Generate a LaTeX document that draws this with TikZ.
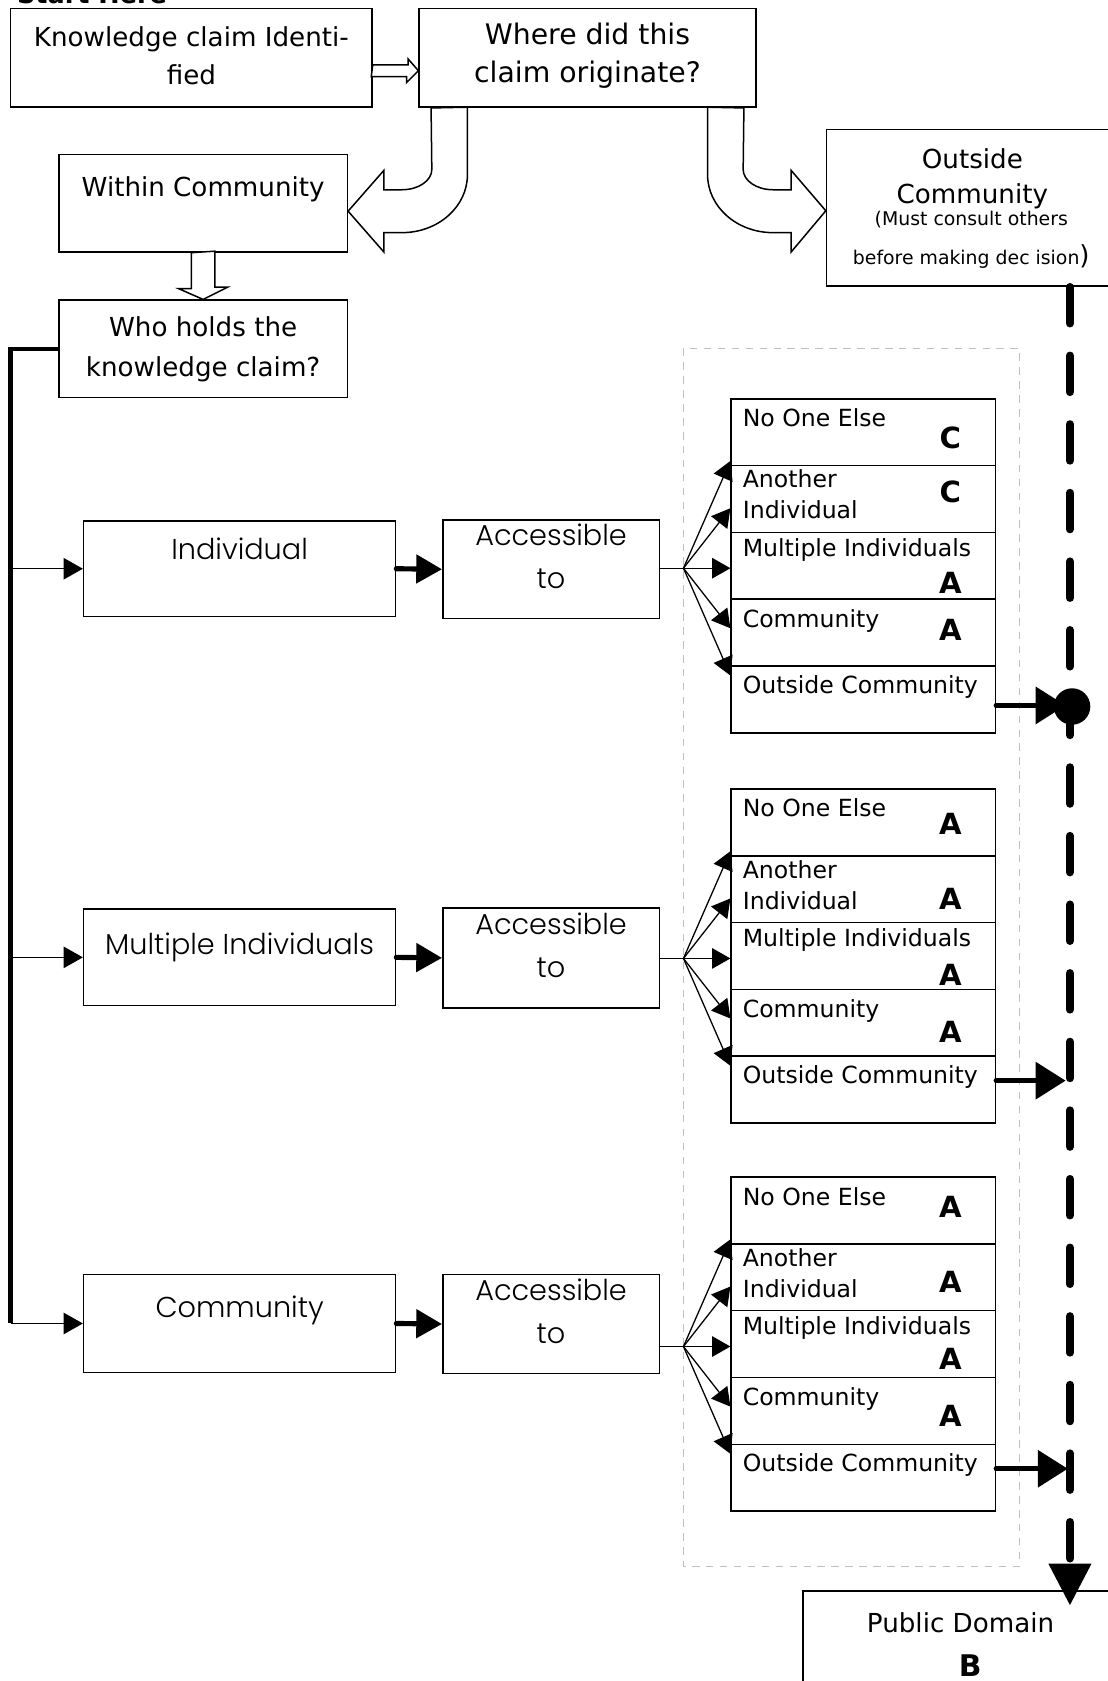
\documentclass[tikz,border=0pt]{standalone}
\usepackage{fontspec}
\setmainfont{DejaVu Sans}
\newfontfamily\gothic{Poppins Light}
\usetikzlibrary{arrows.meta}

\tikzset{
    box/.style={draw, line width=0.7pt, inner sep=0pt},
    blockarrow/.style={draw, line width=0.7pt, fill=white, line join=miter},
    bigtext/.style={inner sep=0pt, align=center, font=\fontsize{12.2}{18}\selectfont},
    gothictext/.style={inner sep=0pt, align=center, font=\gothic\fontsize{13.4}{20}\selectfont},
    rowtext/.style={inner sep=0pt, anchor=base west, font=\fontsize{11}{14}\selectfont},
    grade/.style={inner sep=0pt, anchor=base, font=\bfseries\fontsize{13.6}{15}\selectfont},
    link/.style={line width=0.6pt},
    feed/.style={line width=0.6pt, -{Triangle[length=9pt, width=10pt]}},
    fan/.style={line width=0.6pt, -{Triangle[length=8.5pt, width=9.5pt]}},
    push/.style={line width=2.4pt, line cap=round, -{Triangle[length=12pt, width=13pt]}},
    exit/.style={line width=2.4pt, line cap=round, -{Triangle[length=14pt, width=17pt]}},
    spine/.style={line width=2.2pt},
    trail/.style={line width=3.75pt, line cap=round, dash pattern=on 17pt off 15pt, -{Triangle[length=19.5pt, width=19pt]}},
    frame/.style={draw=gray!50, line width=0.5pt, dash pattern=on 3.5pt off 3pt}
}

\begin{document}
\begin{tikzpicture}[x=0.5pt, y=-0.5pt]
        \useasboundingbox (0,0) rectangle (1033,1568);
        \draw[frame] (637.5,325) rectangle (951,1461);

        \node[anchor=base west, inner sep=0pt, font=\bfseries\fontsize{11.9}{14}\selectfont] (start) at (15.5,3) {Start Here};

        \node[box, minimum width=168.5pt, minimum height=46pt] (know) at (178.5,54) {};
        \node[bigtext] (know-t) at (178.5,52) {Knowledge claim Identi-\\fied};
        \node[box, minimum width=157pt, minimum height=46pt] (where) at (548,54) {};
        \node[bigtext, font=\fontsize{13.2}{17.75}\selectfont] (where-t) at (548,52) {Where did this\\claim originate?};
        \node[box, minimum width=134.5pt, minimum height=45.5pt] (within) at (189.5,189.5) {};
        \node[bigtext, anchor=base] (within-t) at (189.5,183) {Within Community};
        \node[box, minimum width=134.5pt, minimum height=45.5pt] (who) at (189.5,325.5) {};
        \node[bigtext, font=\fontsize{12.2}{18.5}\selectfont] (who-t) at (189.5,326) {Who holds the\\knowledge claim?};
        \node[box, minimum width=136pt, minimum height=73pt] (outside) at (907,194) {};
        \node[bigtext, font=\fontsize{12.2}{16.5}\selectfont] (outside-t) at (907,167) {Outside\\Community};
        \node[inner sep=0pt, align=center, font=\fontsize{8.8}{18}\selectfont] (outside-n) at (906,223.4) {(Must consult others\\before making dec ision{\fontsize{12.2}{18}\selectfont)}};
        \node[box, minimum width=149pt, minimum height=68pt] (public) at (898,1552) {};
        \node[bigtext, anchor=base] (public-t) at (896,1522.8) {Public Domain};
        \node[grade, font=\bfseries\fontsize{13.9}{15}\selectfont] (public-g) at (905,1564) {B};

        \draw[blockarrow] ([shift={(0,6.5)}]know.east) -- ++(33,0) -- ++(0,-5.5) -- ([shift={(0,12)}]where.west) -- ++(-11,11) -- ++(0,-5.5) -- ++(-33,0) -- cycle;
        \draw[blockarrow] ([shift={(-11,0)}]within.south) -- ++(0,33.5) -- ++(-12,0) -- (who.north) -- ++(23,-11.5) -- ++(-12,0) -- ++(0,-33.5) -- cycle;
        \draw[blockarrow] ([shift={(11.8,0)}]where.south west) -- (402.8,158)
            .. controls (402.8,168.5) and (390.3,177) .. (375,177) -- (358,177) -- (358,159)
            -- ([shift={(0,7.5)}]within.east) -- (358,235) -- (358,217) -- (375,217)
            .. controls (408.7,217) and (436,192.8) .. (436,163) -- (436,100) -- cycle;
        \draw[blockarrow] ([shift={(-11.8,0)}]where.south east) -- (693.2,158)
            .. controls (693.2,168.5) and (705.7,177) .. (721,177) -- (738,177) -- (738,159)
            -- ([shift={(0,2.6)}]outside.west) -- (738,235) -- (738,217) -- (721,217)
            .. controls (687.3,217) and (660,192.8) .. (660,163) -- (660,100) -- cycle;

        \node[box, minimum width=145.5pt, minimum height=44.5pt] (ind) at (223.5,530.5) {};
        \node[gothictext, anchor=base] (ind-t) at (223.5,522) {Individual};
        \node[box, minimum width=101pt, minimum height=46pt] (acc1) at (514,531) {};
        \node[gothictext] (acc1-t) at (514,519) {Accessible\\to};
        \node[box, minimum width=145.5pt, minimum height=45pt] (mult) at (223.5,893) {};
        \node[gothictext, anchor=base] (mult-t) at (223.5,890) {Multiple Individuals};
        \node[box, minimum width=101pt, minimum height=46.5pt] (acc2) at (514,893.5) {};
        \node[gothictext] (acc2-t) at (514,881.5) {Accessible\\to};
        \node[box, minimum width=145.5pt, minimum height=45.5pt] (com) at (223.5,1234.5) {};
        \node[gothictext, anchor=base] (com-t) at (223.5,1228.5) {Community};
        \node[box, minimum width=101pt, minimum height=46pt] (acc3) at (514,1235) {};
        \node[gothictext] (acc3-t) at (514,1223) {Accessible\\to};

        \foreach \g/\ytop/\ga/\ya/\gb/\yb/\gc/\yc/\gd/\yd/\ye in {1/372/C/46/C/97/A/182/A/225/286, 2/736/A/42/A/112/A/183/A/236/272, 3/1098/A/38/A/108/A/179/A/233/272} {
            \foreach \r in {1,...,5} {
                \node[box, minimum width=123.25pt, minimum height=31.15pt] (c\g-\r) at (805.25,\ytop+\r*62.3-31.15) {};
            }
            \node[rowtext] (c\g-1t) at (692.5,\ytop+26) {No One Else};
            \node[rowtext] (c\g-2t) at (692.5,\ytop+83) {Another};
            \node[rowtext] (c\g-2u) at (692.5,\ytop+112) {Individual};
            \node[rowtext] (c\g-3t) at (692.5,\ytop+147) {Multiple Individuals};
            \node[rowtext] (c\g-4t) at (692.5,\ytop+213) {Community};
            \node[rowtext] (c\g-5t) at (692.5,\ytop+275) {Outside Community};
            \node[grade] (g\g-1) at (886.5,\ytop+\ya) {\ga};
            \node[grade] (g\g-2) at (886.5,\ytop+\yb) {\gb};
            \node[grade] (g\g-3) at (886.5,\ytop+\yc) {\gc};
            \node[grade] (g\g-4) at (886.5,\ytop+\yd) {\gd};
            \coordinate (fan\g) at (637.5,\ytop+158);
            \draw[fan] (fan\g) -- ([shift={(0,-5)}]c\g-1.south west);
            \draw[fan] (fan\g) -- ([shift={(0,8.6)}]c\g-2.west);
            \draw[fan] (fan\g) -- (c\g-3.west |- fan\g);
            \draw[fan] (fan\g) -- ([shift={(0,-4)}]c\g-4.west);
            \draw[fan] (fan\g) -- ([shift={(0,9.6)}]c\g-5.north west);
            \coordinate (m\g) at (998,\ytop+\ye);
        }

        \coordinate (spine) at (10,325.5);
        \draw[spine] (who.west) -- (spine) -- (spine |- com.west);
        \draw[feed] (spine |- ind.west) -- (ind.west);
        \draw[feed] (spine |- mult.west) -- (mult.west);
        \draw[feed] (spine |- com.west) -- (com.west);
        \draw[push] (ind.east) -- (acc1.west);
        \draw[push] (mult.east) -- (acc2.west);
        \draw[push] (com.east) -- (acc3.west);
        \draw[link] (acc1.east |- fan1) -- (fan1);
        \draw[link] (acc2.east |- fan2) -- (fan2);
        \draw[link] (acc3.east |- fan3) -- (fan3);

        \coordinate (land) at (998,1497.6);
        \draw[trail] (outside.south -| land) -- (land);
        \draw[exit] (c1-5.east |- m1) -- ([shift={(-4,0)}]m1);
        \draw[exit] (c2-5.east |- m2) -- ([shift={(-4,0)}]m2);
        \draw[exit] (c3-5.east |- m3) -- ([shift={(-2,0)}]m3);
        \fill ([shift={(2,1)}]m1) circle [radius=8.5pt];
      \end{tikzpicture}
\end{document}
